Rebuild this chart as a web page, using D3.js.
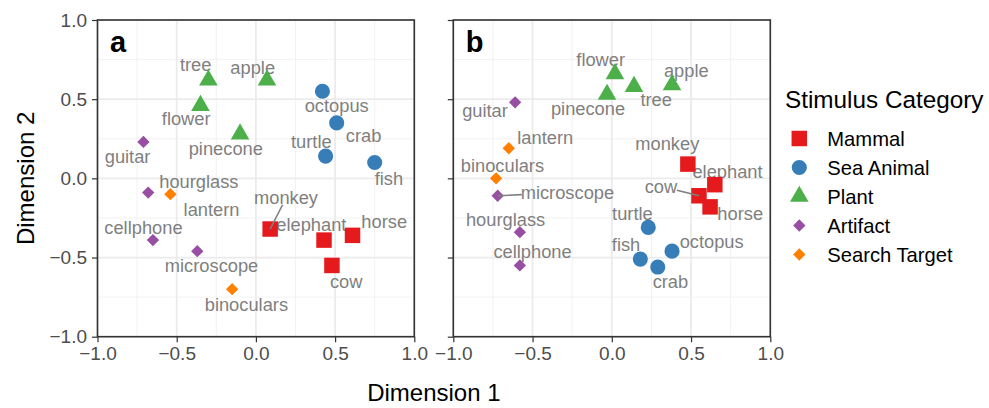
<!DOCTYPE html>
<html>
<head>
<meta charset="utf-8">
<script src="https://cdn.jsdelivr.net/npm/d3@7"></script>
<style>
  html, body { margin: 0; padding: 0; background: #fff; }
  svg { display: block; font-family: "Liberation Sans", Arial, Helvetica, sans-serif; }
</style>
</head>
<body>
<svg id="chart" width="989" height="408"></svg>
<script>
// ---------------- DATA ----------------
const stimuli  = ["monkey","elephant","horse","cow","octopus","crab","turtle","fish",
                  "tree","apple","flower","pinecone","guitar","hourglass","cellphone","microscope",
                  "lantern","binoculars"];
const category = ["Mammal","Mammal","Mammal","Mammal","Sea Animal","Sea Animal","Sea Animal","Sea Animal",
                  "Plant","Plant","Plant","Plant","Artifact","Artifact","Artifact","Artifact",
                  "Search Target","Search Target"];

// Panel a coordinates
const aX = [0.09, 0.43, 0.61, 0.48, 0.42, 0.51, 0.44, 0.75,
            -0.30, 0.07, -0.35, -0.10, -0.71, -0.68, -0.65, -0.37,
            -0.54, -0.15];
const aY = [-0.32, -0.39, -0.36, -0.55, 0.55, 0.35, 0.14, 0.10,
            0.62, 0.62, 0.46, 0.28, 0.23, -0.09, -0.39, -0.46,
            -0.10, -0.70];
// Panel a label anchors (repelled label positions)
const aLabX = [0.19, 0.35, 0.81, 0.57, 0.51, 0.68, 0.35, 0.84,
               -0.38, -0.02, -0.44, -0.19, -0.81, -0.36, -0.71, -0.28,
               -0.28, -0.06];
const aLabY = [-0.12, -0.29, -0.27, -0.65, 0.46, 0.27, 0.23, 0.00,
               0.72, 0.70, 0.38, 0.19, 0.14, -0.02, -0.31, -0.55,
               -0.20, -0.80];
const aSegments = ["monkey"];

// Panel b coordinates
const bX = [0.48, 0.65, 0.62, 0.55, 0.38, 0.29, 0.23, 0.18,
            0.14, 0.38, 0.02, -0.03, -0.61, -0.58, -0.58, -0.72,
            -0.65, -0.73];
const bY = [0.09, -0.04, -0.18, -0.11, -0.46, -0.56, -0.31, -0.51,
            0.58, 0.59, 0.66, 0.53, 0.48, -0.34, -0.55, -0.11,
            0.19, 0.00];
const bLabX = [0.35, 0.73, 0.81, 0.31, 0.63, 0.37, 0.13, 0.09,
               0.28, 0.47, -0.07, -0.15, -0.80, -0.67, -0.50, -0.28,
               -0.42, -0.69];
const bLabY = [0.22, 0.04, -0.22, -0.05, -0.40, -0.65, -0.22, -0.42,
               0.50, 0.68, 0.75, 0.44, 0.43, -0.26, -0.46, -0.09,
               0.26, 0.08];
const bSegments = ["cow", "microscope"];

const categories = ["Mammal","Sea Animal","Plant","Artifact","Search Target"];
const catColors  = ["#E41A1C","#377EB8","#4DAF4A","#984EA3","#FF7F00"];
const catShapes  = ["square","circle","triangle","diamond","diamond"];

const axisTicks = [-1.0, -0.5, 0.0, 0.5, 1.0];
const minorTicks = [-0.75, -0.25, 0.25, 0.75];
const panelLetters = ["a", "b"];
const xTitle = "Dimension 1";
const yTitle = "Dimension 2";
const legendTitle = "Stimulus Category";

// ---------------- LAYOUT ----------------
const svg = d3.select("#chart");
const pTop = 20, pBottom = 336.7;
const panels = [
  { left: 97.5,  right: 414.3, x: aX, y: aY, lx: aLabX, ly: aLabY, seg: aSegments, letter: panelLetters[0], yLabels: true },
  { left: 453.3, right: 770.3, x: bX, y: bY, lx: bLabX, ly: bLabY, seg: bSegments, letter: panelLetters[1], yLabels: false }
];
const colorScale = d3.scaleOrdinal().domain(categories).range(catColors);
const shapeScale = d3.scaleOrdinal().domain(categories).range(catShapes);

const fmt = v => (v < 0 ? "\u2212" : "") + Math.abs(v).toFixed(1);

function symbolPath(shape) {
  switch (shape) {
    case "square":   return d3.symbol(d3.symbolSquare, 240)();
    case "circle":   return d3.symbol(d3.symbolCircle, 180)();
    case "triangle": return d3.symbol(d3.symbolTriangle, 150)();
    case "diamond":  return d3.symbol(d3.symbolSquare, 76)();
  }
}
function symbolRotate(shape) { return shape === "diamond" ? 45 : 0; }

panels.forEach(p => {
  const xs = d3.scaleLinear().domain([-1, 1]).range([p.left, p.right]);
  const ys = d3.scaleLinear().domain([-1, 1]).range([pBottom, pTop]);
  const g = svg.append("g");

  // grid
  g.selectAll(".minx").data(minorTicks).join("line")
    .attr("x1", d => xs(d)).attr("x2", d => xs(d)).attr("y1", pTop).attr("y2", pBottom)
    .attr("stroke", "#f0f0f0").attr("stroke-width", 0.9);
  g.selectAll(".miny").data(minorTicks).join("line")
    .attr("y1", d => ys(d)).attr("y2", d => ys(d)).attr("x1", p.left).attr("x2", p.right)
    .attr("stroke", "#f0f0f0").attr("stroke-width", 0.9);
  g.selectAll(".majx").data(axisTicks).join("line")
    .attr("x1", d => xs(d)).attr("x2", d => xs(d)).attr("y1", pTop).attr("y2", pBottom)
    .attr("stroke", "#ebebeb").attr("stroke-width", 1.8);
  g.selectAll(".majy").data(axisTicks).join("line")
    .attr("y1", d => ys(d)).attr("y2", d => ys(d)).attr("x1", p.left).attr("x2", p.right)
    .attr("stroke", "#ebebeb").attr("stroke-width", 1.8);

  // axes
  const xAxis = d3.axisBottom(xs).tickValues(axisTicks).tickFormat(fmt).tickSize(5.5).tickPadding(4);
  const gx = g.append("g").attr("transform", `translate(0,${pBottom})`).call(xAxis);
  gx.select(".domain").remove();
  gx.selectAll(".tick line").attr("stroke", "#333").attr("stroke-width", 1.2);
  gx.selectAll(".tick text").attr("fill", "#4d4d4d").attr("font-size", 19)
    .attr("font-family", "'Liberation Sans', Arial, sans-serif");

  const yAxis = d3.axisLeft(ys).tickValues(axisTicks).tickFormat(p.yLabels ? fmt : () => "").tickSize(5.5).tickPadding(5);
  const gy = g.append("g").attr("transform", `translate(${p.left},0)`).call(yAxis);
  gy.select(".domain").remove();
  gy.selectAll(".tick line").attr("stroke", "#333").attr("stroke-width", 1.2);
  gy.selectAll(".tick text").attr("fill", "#4d4d4d").attr("font-size", 19)
    .attr("font-family", "'Liberation Sans', Arial, sans-serif");

  const idx = d3.range(stimuli.length);
  const labels = g.append("g").selectAll("text").data(idx).join("text")
    .attr("x", i => xs(p.lx[i])).attr("y", i => ys(p.ly[i]))
    .attr("dy", "0.35em").attr("text-anchor", "middle")
    .attr("font-size", 18.3).attr("fill", "#7f7f7f")
    .text(i => stimuli[i]);

  const segG = g.append("g");
  labels.each(function(i) {
    if (!p.seg.includes(stimuli[i])) return;
    const bb = this.getBBox();
    const cx = bb.x + bb.width / 2, cy = bb.y + bb.height / 2;
    const px = xs(p.x[i]), py = ys(p.y[i]);
    const dx = cx - px, dy = cy - py;
    const hw = bb.width / 2 - 1, hh = bb.height / 2 - 3;
    const t = Math.min(Math.abs(hw / dx) || Infinity, Math.abs(hh / dy) || Infinity);
    const sx = cx - dx * t, sy = cy - dy * t;
    segG.append("line").attr("x1", sx).attr("y1", sy).attr("x2", px).attr("y2", py)
      .attr("stroke", "#7f7f7f").attr("stroke-width", 1.6);
  });

  g.append("g").selectAll("path").data(idx).join("path")
    .attr("d", i => symbolPath(shapeScale(category[i])))
    .attr("transform", i => `translate(${xs(p.x[i])},${ys(p.y[i])}) rotate(${symbolRotate(shapeScale(category[i]))})`)
    .attr("fill", i => colorScale(category[i]));

  segG.raise();

  g.append("rect").attr("x", p.left).attr("y", pTop)
    .attr("width", p.right - p.left).attr("height", pBottom - pTop)
    .attr("fill", "none").attr("stroke", "#333").attr("stroke-width", 1.6);

  g.append("text").attr("x", p.left + 12.5).attr("y", 51.5)
    .attr("font-size", 29).attr("font-weight", "bold").attr("fill", "#000")
    .text(p.letter);
});

svg.append("text").attr("x", (97.5 + 770.3) / 2).attr("y", 401)
  .attr("text-anchor", "middle").attr("font-size", 24).attr("fill", "#000").text(xTitle);
svg.append("text").attr("transform", `translate(34,${(pTop + pBottom) / 2}) rotate(-90)`)
  .attr("text-anchor", "middle").attr("font-size", 24).attr("fill", "#000").text(yTitle);

const leg = svg.append("g");
leg.append("text").attr("x", 785).attr("y", 108).attr("font-size", 24.3).attr("fill", "#000").text(legendTitle);
const legItems = leg.selectAll(".item").data(categories).join("g")
  .attr("transform", (d, i) => `translate(799.3,${138.5 + i * 29})`);
legItems.append("path")
  .attr("d", d => symbolPath(shapeScale(d)))
  .attr("transform", d => `rotate(${symbolRotate(shapeScale(d))})`)
  .attr("fill", d => colorScale(d));
legItems.append("text").attr("x", 28).attr("dy", "0.35em")
  .attr("font-size", 20.2).attr("fill", "#000").text(d => d);
</script>
</body>
</html>
